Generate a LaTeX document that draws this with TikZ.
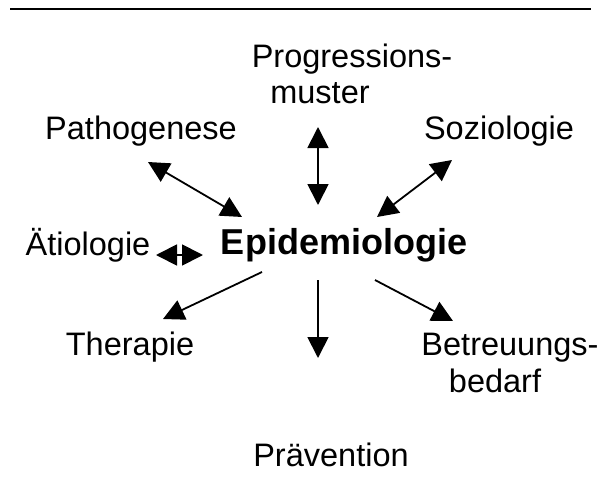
\documentclass[tikz,border=0pt]{standalone}
\usepackage{fontspec}
\setmainfont{Liberation Sans}
\usetikzlibrary{arrows.meta}
\begin{document}
\begin{tikzpicture}[x=1pt,y=-1pt,
  lbl/.style={font=\fontsize{32.5}{37}\selectfont, inner sep=0pt, anchor=base},
  mainlbl/.style={font=\fontsize{36}{40}\selectfont\bfseries, inner sep=0pt, anchor=base},
  conn/.style={line width=1.8pt, -{Triangle[length=21pt,width=21pt]}},
  bconn/.style={line width=1.8pt, {Triangle[length=21pt,width=21pt]}-{Triangle[length=21pt,width=21pt]}}]
\useasboundingbox (0,0) rectangle (599,479);
\coordinate (rl) at (10,9);
\coordinate (rr) at (591,9);
\draw[line width=2.5pt] (rl) -- (rr);

\node[mainlbl] (epi) at (344,254) {Epidemiologie};
\node[lbl] (prog1) at (352,67) {Progressions-};
\node[lbl] (prog2) at (320,103) {muster};
\node[lbl] (path) at (141,139) {Pathogenese};
\node[lbl] (soz) at (499,139) {Soziologie};
\node[lbl] (aet) at (88,255) {Ätiologie};
\node[lbl] (ther) at (130,355) {Therapie};
\node[lbl] (betr1) at (510,355) {Betreuungs-};
\node[lbl] (betr2) at (495,392) {bedarf};
\node[lbl] (prae) at (331,466) {Prävention};

\coordinate (progA) at (318,127);
\coordinate (progB) at (318,205);
\coordinate (pathA) at (148,162);
\coordinate (pathB) at (242,217);
\coordinate (sozA) at (452,160);
\coordinate (sozB) at (377,217);
\coordinate (aetA) at (156,255);
\coordinate (aetB) at (203,255);
\coordinate (therA) at (262,272);
\coordinate (therB) at (163,319);
\coordinate (praeA) at (318,280);
\coordinate (praeB) at (318,358);
\coordinate (betrA) at (375,280);
\coordinate (betrB) at (453,321);

\draw[bconn] (progA) -- (progB);
\draw[bconn] (pathA) -- (pathB);
\draw[bconn] (sozA) -- (sozB);
\draw[bconn] (aetA) -- (aetB);
\draw[conn] (therA) -- (therB);
\draw[conn] (praeA) -- (praeB);
\draw[conn] (betrA) -- (betrB);
\end{tikzpicture}
\end{document}
